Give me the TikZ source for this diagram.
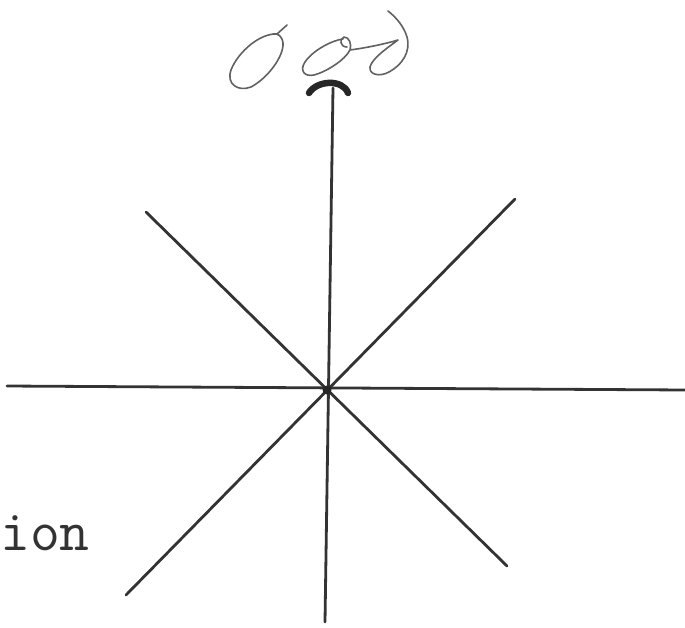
\documentclass[tikz,border=0pt]{standalone}
\begin{document}
\begin{tikzpicture}[x=1pt,y=-1pt,
  ray/.style={draw=black!80,line width=2.8pt,line cap=round},
  pen/.style={draw=black!62,line width=1.6pt,line cap=round,line join=round},
  lbl/.style={inner sep=0pt,anchor=base west,font=\fontsize{58}{60}\selectfont\ttfamily,text=black!80}]
\useasboundingbox (0,0) rectangle (685,627);
\coordinate (C) at (327,390);
\coordinate (L) at (7,386);
\coordinate (R) at (686,390);
\coordinate (T) at (333,88);
\coordinate (B) at (325,622);
\coordinate (UL) at (146,212);
\coordinate (LR) at (507,566);
\coordinate (UR) at (515,199);
\coordinate (LL) at (126,595);
\draw[ray] (L) -- (R);
\draw[ray] (T) -- (B);
\draw[ray] (UL) -- (LR);
\draw[ray] (UR) -- (LL);
\fill[black!85] (C) circle (4.5pt);
% cap at top of vertical line
\draw[draw=black!85,line width=6.5pt,line cap=round] (309,93) .. controls (317,80) and (343,79) .. (348,93);
% handwritten "ood"
\draw[pen] (287,25) -- (277,34) .. controls (260,33) and (238,52) .. (231,70)
  .. controls (226,84) and (238,92) .. (251,87)
  .. controls (268,78) and (284,56) .. (283,43)
  .. controls (282,36) and (278,33) .. (273,34);
\draw[pen] (343,39) .. controls (333,40) and (313,50) .. (305,62)
  .. controls (299,71) and (305,77) .. (314,75)
  .. controls (326,72) and (345,60) .. (350,50)
  .. controls (352,44) and (349,37) .. (344,37)
  .. controls (339,39) and (340,47) .. (347,47)
  (350,50) .. controls (365,48) and (385,44) .. (398,40)
  .. controls (390,46) and (372,58) .. (370,67)
  .. controls (369,75) and (380,77) .. (389,72)
  .. controls (402,65) and (411,52) .. (407,37)
  .. controls (404,27) and (397,18) .. (388,11);
\node[lbl] (ion) at (0,550) {ion};
\end{tikzpicture}
\end{document}
